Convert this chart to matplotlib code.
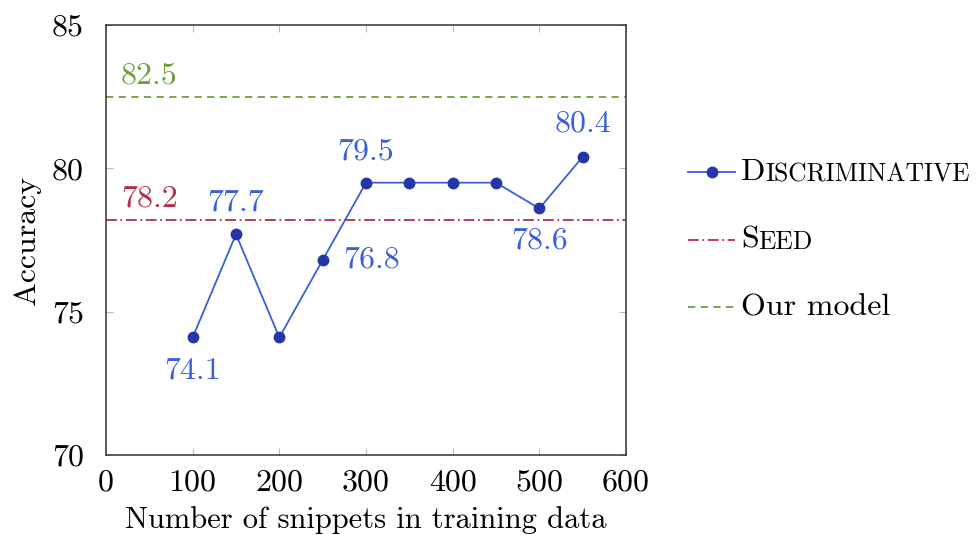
import matplotlib
matplotlib.use("Agg")
import matplotlib.pyplot as plt
from matplotlib.lines import Line2D

snippets = [100, 150, 200, 250, 300, 350, 400, 450, 500, 550]
disc_acc = [74.1, 77.7, 74.1, 76.8, 79.5, 79.5, 79.5, 79.5, 78.6, 80.4]
seed_acc = 78.2
our_acc = 82.5
xticks = [0, 100, 200, 300, 400, 500, 600]
yticks = [70, 75, 80, 85]
# annotated points: (x, y, text, offset in points)
disc_labels = [(100, 74.1, "74.1", (0, -24)), (150, 77.7, "77.7", (0, 23)),
               (250, 76.8, "76.8", (35, 0)), (300, 79.5, "79.5", (0, 22)),
               (500, 78.6, "78.6", (0, -23)), (550, 80.4, "80.4", (0, 24))]

BLUE = "#3a5fd8"
BLUE_M = "#2436a8"
RED = "#b0304a"
GREEN = "#6e9f3c"
FONT = "cmr10"
plt.rcParams["font.family"] = FONT
plt.rcParams["axes.formatter.use_mathtext"] = True
FS = 23

fig = plt.figure(figsize=(9.77, 5.35), dpi=100)
ax = fig.add_axes([106/977, 80/535, 520/977, 430/535])
ax.set_xlim(0, 600)
ax.set_ylim(70, 85)

ax.plot(snippets, disc_acc, color=BLUE, lw=1.3, marker="o", ms=7.5,
        mfc=BLUE_M, mec=BLUE_M, zorder=3)
ax.axhline(seed_acc, color=RED, lw=1.3, ls=(0, (6, 2, 1, 2)))
ax.axhline(our_acc, color=GREEN, lw=1.3, ls=(0, (4, 3)))

ax.annotate(f"{our_acc}", (50, our_acc), xytext=(0, 15), textcoords="offset points",
            ha="center", va="center", color=GREEN, fontsize=FS)
ax.annotate(f"{seed_acc}", (50, seed_acc), xytext=(0, 15), textcoords="offset points",
            ha="center", va="center", color=RED, fontsize=FS)
for x, y, t, off in disc_labels:
    ax.annotate(t, (x, y), xytext=off, textcoords="offset points",
                ha="center", va="center", color=BLUE, fontsize=FS)

ax.set_xticks(xticks)
ax.set_yticks(yticks)
ax.set_xticklabels([str(v) for v in xticks], fontsize=FS)
ax.set_yticklabels([str(v) for v in yticks], fontsize=FS)
ax.tick_params(direction="in", length=5, color="#bbbbbb", width=0.8)
ax.tick_params(axis="x", pad=10)
ax.tick_params(axis="y", pad=16)
ax.tick_params(top=True, right=True)
for s in ax.spines.values():
    s.set_linewidth(1.1)
    s.set_color("#333333")
ax.set_xlabel("Number of snippets in training data", fontsize=22, labelpad=7)
ax.set_ylabel("Accuracy", fontsize=FS, labelpad=8)

# legend (drawn manually to get small caps)
rows = [172/535, 240/535, 307/535]
x0, x1 = 688/977, 735/977
fig.add_artist(Line2D([x0, x1], [1 - rows[0]] * 2, color=BLUE, lw=1.3,
                      transform=fig.transFigure))
fig.add_artist(Line2D([(x0 + x1) / 2], [1 - rows[0]], color=BLUE_M, marker="o", ms=7.5,
                      transform=fig.transFigure))
fig.add_artist(Line2D([x0, x1], [1 - rows[1]] * 2, color=RED, lw=1.3,
                      ls=(0, (6, 2, 1, 2)), transform=fig.transFigure))
fig.add_artist(Line2D([x0, x1], [1 - rows[2]] * 2, color=GREEN, lw=1.3,
                      ls=(0, (4, 3)), transform=fig.transFigure))

tx = 741/977
legend_names = [("D", "ISCRIMINATIVE"), ("S", "EED")]
fig.canvas.draw()
for (first, rest), r in zip(legend_names, rows[:2]):
    t1 = fig.text(tx, 1 - r - 8/535, first, fontsize=FS, va="baseline")
    fig.canvas.draw()
    ax.annotate(rest, xy=(1, 0), xycoords=t1, fontsize=FS * 0.8,
                va="bottom", ha="left", annotation_clip=False)
fig.text(tx, 1 - rows[2] - 8/535, "Our model", fontsize=FS, va="baseline")

fig.savefig("out.png", dpi=100)
